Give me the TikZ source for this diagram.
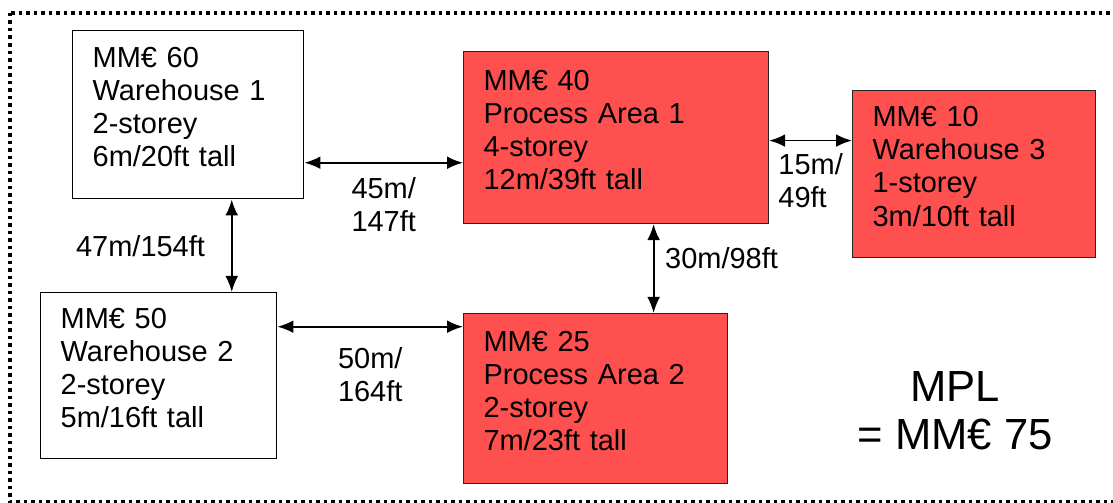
\documentclass[tikz,border=0pt]{standalone}
\usepackage{fontspec}
\setmainfont{Liberation Sans}
\usetikzlibrary{arrows.meta,positioning}
\definecolor{mplred}{RGB}{255,80,80}
\tikzstyle{arrow} = [line width=1.3pt,{Latex[length=0.4cm,width=0.32cm]}-{Latex[length=0.4cm,width=0.32cm]}]
\tikzstyle{areabox} = [rectangle, draw=black, line width=1pt, anchor=north west, align=left, inner xsep=0.5cm, text depth=2.88cm, font=\fontsize{20.6}{23.6}\selectfont]
\tikzstyle{hotbox} = [areabox, fill=mplred, draw=black!85, line width=0.8pt]
\tikzstyle{distlabel} = [font=\fontsize{20.6}{23.6}\selectfont, align=center]

\begin{document}
\begin{tikzpicture}[x=0.025cm, y=-0.025cm]
\clip (0,0) rectangle (1113,503);
% Frame
\draw[line width=0.0875cm, dash pattern=on 0.0875cm off 0.1cm] (10,13) rectangle (1125,502);

% Warehouse 1
\node[areabox, text width=4.775cm, minimum height=4.2cm] (wh1) at (72,30) {
MM€ 60\\
Warehouse 1\\
2-storey\\
6m/20ft tall
};

% Process Area 1
\node[hotbox, text width=6.625cm, minimum height=4.3cm] (pa1) at (463,51) {
MM€ 40\\
Process Area 1\\
4-storey\\
12m/39ft tall
};

% Warehouse 3
\node[hotbox, text width=5.075cm, minimum height=4.175cm] (wh3) at (852,90) {
MM€ 10\\
Warehouse 3\\
1-storey\\
3m/10ft tall
};

% Warehouse 2
\node[areabox, text width=4.9cm, minimum height=4.15cm] (wh2) at (40,292) {
MM€ 50\\
Warehouse 2\\
2-storey\\
5m/16ft tall
};

% Process Area 2
\node[hotbox, text width=5.6cm, minimum height=4.25cm] (pa2) at (463,313) {
MM€ 25\\
Process Area 2\\
2-storey\\
7m/23ft tall
};

% MPL
\node[font=\fontsize{31}{34}\selectfont, align=center] (mpl) at (955,411) {MPL\\= MM€ 75};

% Distances
\draw[arrow] ([yshift=-1.2cm]wh1.east) -- node[distlabel, below=0.22cm] {45m/\\147ft} ([yshift=-1.2cm]wh1.east -| pa1.west);
\draw[arrow] ([yshift=-0.075cm]pa1.east) -- node[distlabel, align=left, below=0.19cm] {15m/\\49ft} ([yshift=-0.075cm]pa1.east -| wh3.west);
\draw[arrow] ([xshift=1.0875cm]wh1.south) -- node[distlabel, left=0.53cm] {47m/154ft} ([xshift=1.0875cm]wh1.south |- wh2.north);
\draw[arrow] ([xshift=0.9375cm]pa1.south) -- node[distlabel, right=0.15cm, yshift=0.25cm] {30m/98ft} ([xshift=0.9375cm]pa1.south |- pa2.north);
\draw[arrow] ([yshift=1.225cm]wh2.east) -- node[distlabel, align=right, below=0.37cm] {50m/\\164ft} ([yshift=1.225cm]wh2.east -| pa2.west);
\end{tikzpicture}
\end{document}
